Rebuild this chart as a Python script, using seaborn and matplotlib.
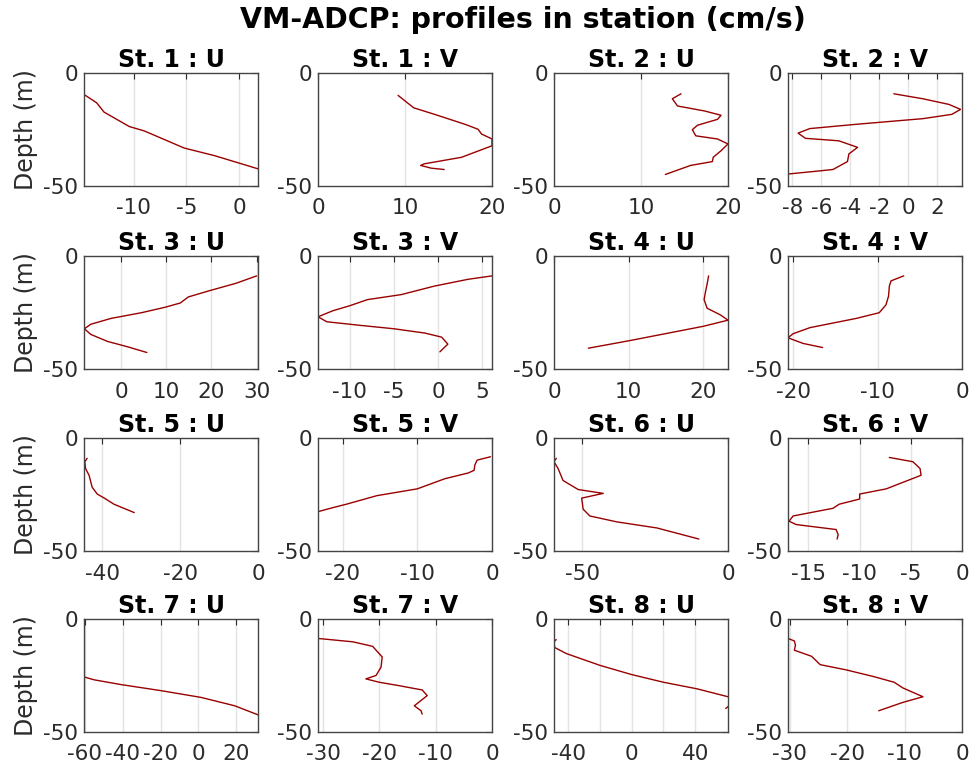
import matplotlib
matplotlib.use('Agg')
import matplotlib.pyplot as plt
import pandas as pd
import seaborn as sns

# Profiles: velocity (cm/s) and depth (m) per station
st1_u = [-14.7, -13.5, -12.8, -10.4, -9.0, -5.2, -2.3, 1.8]
st1_u_z = [-9.5, -13.2, -17.3, -23.7, -25.6, -33.2, -36.6, -42.4]
st1_v = [9.2, 11.0, 13.4, 16.9, 18.4, 18.8, 20.0, 20.0, 16.5, 12.2, 11.8, 13.0, 14.5]
st1_v_z = [-9.9, -15.4, -18.3, -22.7, -24.9, -27.0, -29.2, -32.2, -37.3, -40.2, -40.9, -42.1, -42.7]

st2_u = [14.6, 13.6, 14.2, 17.3, 19.2, 18.8, 16.5, 15.9, 16.3, 18.8, 20.0, 19.2, 18.3, 18.2, 15.7, 12.8]
st2_u_z = [-9.2, -11.4, -14.6, -16.8, -18.7, -20.5, -23.1, -25.1, -27.8, -29.2, -31.4, -34.4, -37.3, -39.2, -40.9, -44.9]
st2_v = [-1.0, 1.0, 2.8, 3.6, 3.0, 1.0, -3.6, -6.8, -7.6, -7.1, -4.8, -3.5, -4.1, -4.2, -5.2, -6.1, -8.3]
st2_v_z = [-9.2, -11.4, -13.9, -16.1, -18.3, -20.2, -22.7, -24.6, -26.6, -28.9, -30.0, -32.9, -35.8, -39.2, -42.7, -43.3, -44.7]

st3_u = [30.0, 25.4, 20.0, 14.9, 13.1, 9.7, 4.5, -2.2, -6.7, -8.1, -6.7, -3.0, 1.5, 5.7]
st3_u_z = [-8.8, -12.1, -15.1, -18.1, -20.8, -22.7, -25.1, -27.6, -30.2, -32.2, -34.7, -37.8, -40.2, -42.7]
st3_v = [6.1, 3.4, -0.4, -4.2, -8.0, -10.0, -11.9, -13.6, -12.6, -8.8, -5.0, -1.5, 0.4, 1.1, 0.2]
st3_v_z = [-8.8, -10.3, -13.3, -17.1, -19.3, -22.0, -24.2, -26.9, -29.1, -30.7, -32.2, -34.1, -35.9, -39.0, -42.4]

st4_u = [20.7, 20.5, 20.3, 20.1, 20.5, 22.3, 23.3, 20.0, 10.2, 4.6]
st4_u_z = [-8.8, -12.5, -15.6, -19.3, -23.1, -26.1, -28.4, -31.1, -37.4, -40.8]
st4_v = [-6.9, -8.4, -8.6, -8.7, -9.0, -9.8, -12.5, -18.0, -20.0, -20.6, -18.8, -16.5]
st4_v_z = [-8.8, -11.0, -13.3, -17.8, -21.6, -25.1, -27.6, -31.7, -34.4, -36.2, -38.7, -40.5]

st5_u = [-43.9, -44.5, -44.3, -43.4, -42.6, -41.3, -39.1, -37.0, -31.8]
st5_u_z = [-9.0, -10.5, -13.5, -16.5, -21.8, -24.8, -27.0, -29.3, -33.0]
st5_v = [-0.2, -2.0, -2.3, -2.4, -3.2, -6.3, -10.0, -15.4, -19.5, -21.3, -23.3]
st5_v_z = [-8.3, -9.8, -12.0, -14.3, -15.5, -18.0, -22.5, -25.5, -29.3, -30.8, -32.6]

st6_u = [-58.9, -59.7, -58.3, -56.6, -51.4, -47.4, -42.8, -50.2, -49.7, -47.4, -38.2, -24.4, -10.0]
st6_u_z = [-9.0, -10.5, -13.5, -18.8, -22.8, -23.6, -24.5, -26.6, -31.5, -34.5, -37.1, -39.8, -44.7]
st6_v = [-7.1, -4.8, -4.1, -4.0, -7.4, -10.0, -10.0, -12.0, -12.6, -16.5, -16.9, -16.2, -12.3, -12.1, -12.2]
st6_v_z = [-8.6, -10.5, -13.5, -16.5, -22.5, -24.8, -27.0, -29.3, -31.1, -34.5, -36.8, -38.3, -40.5, -42.8, -44.7]

st7_u = [-60.1, -55.1, -41.0, -19.8, 1.4, 19.1, 31.4]
st7_u_z = [-25.7, -26.9, -29.0, -31.7, -34.7, -38.4, -42.4]
st7_v = [-30.9, -24.7, -21.2, -19.5, -19.7, -20.6, -22.4, -20.0, -16.5, -12.4, -11.5, -13.8, -12.6, -12.4]
st7_v_z = [-8.6, -10.1, -12.1, -16.8, -21.3, -25.0, -26.5, -28.0, -29.5, -31.4, -33.9, -38.4, -40.6, -42.1]

st8_u = [-47.6, -49.0, -48.6, -41.2, -20.1, 0.0, 20.1, 41.2, 60.7, 66.0, 62.0, 59.3]
st8_u_z = [-9.1, -10.1, -12.6, -15.3, -20.5, -24.6, -28.0, -30.9, -34.4, -36.2, -38.0, -39.6]
st8_v = [-30.3, -29.2, -29.0, -29.2, -26.2, -24.7, -20.2, -15.5, -11.8, -10.3, -6.8, -10.3, -14.5]
st8_v_z = [-8.6, -9.7, -11.6, -13.8, -16.5, -20.2, -22.5, -25.4, -28.0, -30.5, -34.4, -36.9, -40.6]

profiles = [
    ('St. 1 : U', st1_u, st1_u_z), ('St. 1 : V', st1_v, st1_v_z),
    ('St. 2 : U', st2_u, st2_u_z), ('St. 2 : V', st2_v, st2_v_z),
    ('St. 3 : U', st3_u, st3_u_z), ('St. 3 : V', st3_v, st3_v_z),
    ('St. 4 : U', st4_u, st4_u_z), ('St. 4 : V', st4_v, st4_v_z),
    ('St. 5 : U', st5_u, st5_u_z), ('St. 5 : V', st5_v, st5_v_z),
    ('St. 6 : U', st6_u, st6_u_z), ('St. 6 : V', st6_v, st6_v_z),
    ('St. 7 : U', st7_u, st7_u_z), ('St. 7 : V', st7_v, st7_v_z),
    ('St. 8 : U', st8_u, st8_u_z), ('St. 8 : V', st8_v, st8_v_z),
]

# x limits and x ticks per panel
xlims = [(-14.7, 1.8), (0, 20), (0, 20), (-8.3, 3.7),
         (-8.2, 30.3), (-13.6, 6.1), (0, 23.3), (-20.6, 0),
         (-44.7, 0), (-23.3, 0), (-59.7, 0), (-17.0, 0),
         (-60.4, 31.4), (-30.9, -0.4), (-49.0, 60.7), (-30.3, 0)]
xticks = [[-10, -5, 0], [0, 10, 20], [0, 10, 20], [-8, -6, -4, -2, 0, 2],
          [0, 10, 20, 30], [-10, -5, 0, 5], [0, 10, 20], [-20, -10, 0],
          [-40, -20, 0], [-20, -10, 0], [-50, 0], [-15, -10, -5, 0],
          [-60, -40, -20, 0, 20], [-30, -20, -10, 0], [-40, -20, 0, 20, 40], [-30, -20, -10, 0]]
hidden_labels = {14: [-20, 20]}

sns.set_style('white')
plt.rcParams['font.family'] = ['DejaVu Sans']

fig = plt.figure(figsize=(9.73, 7.64), dpi=100)
W, H = 973, 764
col_left = [84, 318, 554, 788]
row_top = [73, 256, 438, 619]
aw, ah = 174, 113

line_color = '#990000'
text_color = '#2b2b2b'

for i, (title, vel, depth) in enumerate(profiles):
    r, c = divmod(i, 4)
    ax = fig.add_axes([col_left[c] / W, 1 - (row_top[r] + ah) / H, aw / W, ah / H])
    df = pd.DataFrame({'vel': vel, 'depth': depth})
    sns.lineplot(data=df, x='vel', y='depth', sort=False, estimator=None,
                 color=line_color, linewidth=1.0, ax=ax)
    ax.set_xlim(*xlims[i])
    ax.set_ylim(-50, 0)
    ax.set_xticks(xticks[i])
    hide = hidden_labels.get(i, [])
    ax.set_xticklabels(['' if t in hide else str(t) for t in xticks[i]])
    ax.set_yticks([-50, 0])
    ax.set_yticklabels(['-50', '0'])
    ax.grid(axis='x', color='#e3e3e3', linewidth=1)
    ax.set_axisbelow(True)
    ax.tick_params(direction='in', length=4, width=0.8, colors=text_color,
                   labelsize=15.5, top=True, right=True)
    ax.tick_params(axis='x', pad=9)
    ax.tick_params(axis='y', pad=4)
    for s in ax.spines.values():
        s.set_color('#444444')
        s.set_linewidth(1.0)
    ax.set_title(title, fontsize=17, fontweight='bold', pad=4, color='black')
    ax.set_xlabel('')
    if c == 0:
        ax.set_ylabel('Depth (m)', fontsize=17, color=text_color, labelpad=4)
    else:
        ax.set_ylabel('')

fig.text(523 / W, 1 - 20 / H, 'VM-ADCP: profiles in station (cm/s)',
         fontsize=20.5, fontweight='bold', ha='center', va='center', color='black')

fig.savefig('out.png', dpi=100)
